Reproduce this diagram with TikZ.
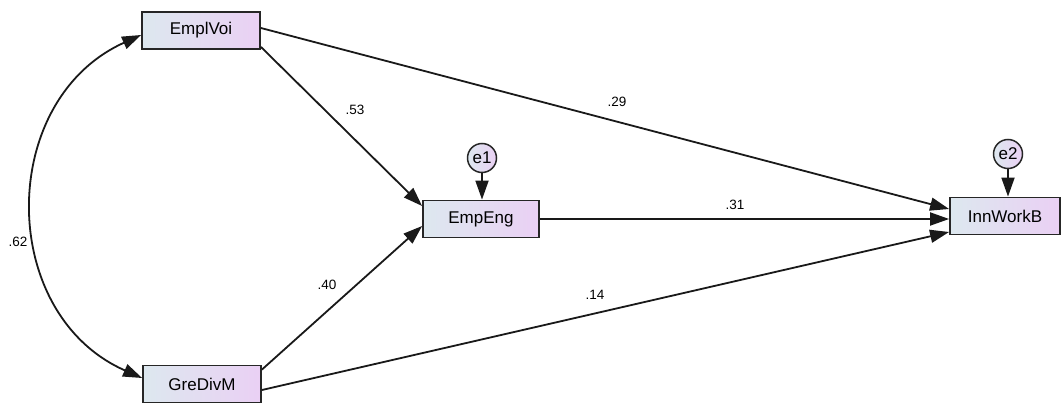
\documentclass[tikz,border=0pt]{standalone}
\usepackage{fontspec}
\setmainfont{Liberation Sans}
\usetikzlibrary{arrows.meta}
\definecolor{boxleft}{RGB}{221,232,239}
\definecolor{boxright}{RGB}{234,208,244}
\tikzset{
  var/.style={draw=black!85, line width=1.8pt, left color=boxleft, right color=boxright,
    minimum height=37pt, inner sep=0pt, font=\fontsize{17}{17}\selectfont},
  err/.style={circle, draw=black!85, line width=1.5pt, left color=boxleft, right color=boxright,
    minimum size=29pt, inner sep=0pt, font=\fontsize{17}{17}\selectfont},
  tip/.style={Triangle[length=19pt,width=13pt]},
  path/.style={line width=1.8pt, draw=black!90, -{Triangle[length=19pt,width=13pt]}},
  coef/.style={font=\fontsize{13.5}{13.5}\selectfont, inner sep=1pt}
}
\begin{document}
\begin{tikzpicture}[x=1pt,y=-1pt]
\useasboundingbox (0,0) rectangle (1061,404);
% observed variables
\node[var, minimum width=118pt] (ev) at (201,30.5) {EmplVoi};
\node[var, minimum width=116pt] (ee) at (481,219) {EmpEng};
\node[var, minimum width=118pt] (gd) at (202,384) {GreDivM};
\node[var, minimum width=110pt] (iw) at (1005,216) {InnWorkB};
% residuals
\node[err] (e1) at (482,158) {e1};
\node[err] (e2) at (1008,154) {e2};
% paths
\draw[path] (e1) -- (e1 |- ee.north);
\draw[path] (e2) -- (e2 |- iw.north);
\draw[path] (ev.east |- 0,28) -- (iw.west |- 0,209);
\draw[path] (ev.south east) ++(0,-3) coordinate (a1) (a1) -- (ee.west |- 0,206);
\draw[path] (gd.north east) ++(0,5) coordinate (a2) (a2) -- (ee.west |- 0,226);
\draw[path] (gd.east |- 0,390) -- (iw.west |- 0,232);
\draw[path] (ee.east) -- (iw.west |- ee.east);
% covariance
\coordinate (c1) at (ev.west |- 0,35);
\coordinate (c2) at (gd.west |- 0,378);
\draw[line width=1.8pt, draw=black!90, {Triangle[length=19pt,width=13pt]}-{Triangle[length=19pt,width=13pt]}]
  (c1) .. controls (-3,100) and (-3,314) .. (c2);
% coefficients
\node[coef] (k62) at (18,242) {.62};
\node[coef] (k53) at (355,110) {.53};
\node[coef] (k29) at (617,102) {.29};
\node[coef] (k31) at (735,205) {.31};
\node[coef] (k40) at (327,285) {.40};
\node[coef] (k14) at (595,295) {.14};
\end{tikzpicture}
\end{document}
